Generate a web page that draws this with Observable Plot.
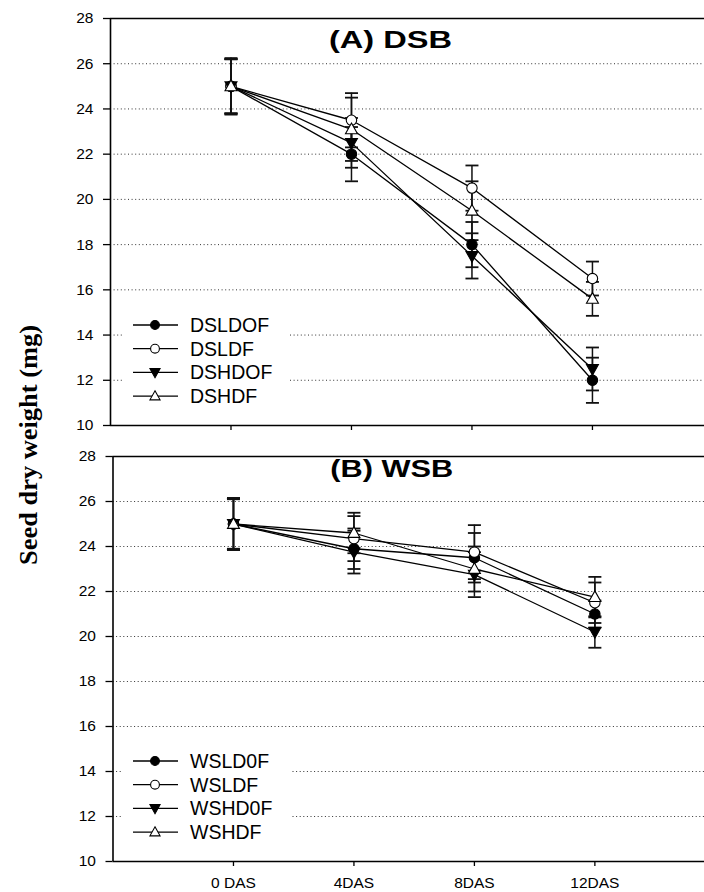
<!DOCTYPE html>
<html>
<head>
<meta charset="utf-8">
<script src="https://cdn.jsdelivr.net/npm/d3@7"></script>
<script src="https://cdn.jsdelivr.net/npm/@observablehq/plot@0.6"></script>
<style>
  html, body { margin: 0; padding: 0; background: #fff; }
  #chart { position: relative; width: 704px; height: 892px; overflow: hidden; background: #fff; }
  #chart > svg { position: absolute; left: 0; }
</style>
</head>
<body>
<div id="chart"></div>
<script>
// Sampling days (x categories)
const days = ["0 DAS", "4DAS", "8DAS", "12DAS"];
const yTicks = [10, 12, 14, 16, 18, 20, 22, 24, 26, 28];
const gridLines = [12, 14, 16, 18, 20, 22, 24, 26];

// (A) DSB — seed dry weight (mg) and error bars
const dsbNames = ["DSLDOF", "DSLDF", "DSHDOF", "DSHDF"];
const DSLDOF = [25.0, 22.0, 18.0, 12.0];
const DSLDOF_err = [1.2, 1.2, 1.0, 1.0];
const DSLDF = [25.0, 23.5, 20.5, 16.5];
const DSLDF_err = [1.2, 1.2, 1.0, 0.75];
const DSHDOF = [25.0, 22.5, 17.5, 12.5];
const DSHDOF_err = [1.2, 1.1, 1.0, 0.95];
const DSHDF = [25.0, 23.1, 19.5, 15.6];
const DSHDF_err = [1.25, 1.4, 1.3, 0.75];

// (B) WSB — seed dry weight (mg) and error bars
const wsbNames = ["WSLD0F", "WSLDF", "WSHD0F", "WSHDF"];
const WSLD0F = [25.0, 23.9, 23.5, 21.0];
const WSLD0F_err = [1.15, 0.9, 1.1, 0.6];
const WSLDF = [25.0, 24.35, 23.75, 21.5];
const WSLDF_err = [1.15, 1.0, 1.2, 0.9];
const WSHD0F = [25.0, 23.75, 22.75, 20.2];
const WSHD0F_err = [1.1, 0.95, 1.0, 0.7];
const WSHDF = [25.0, 24.6, 23.0, 21.75];
const WSHDF_err = [1.15, 0.9, 1.0, 0.9];

// Custom marker shapes (d3 symbol-type objects accepted by Plot.dot)
const triUp = {
  draw(ctx, size) {
    const r = Math.sqrt(size / Math.PI);
    ctx.moveTo(0, -1.2 * r);
    ctx.lineTo(1.15 * r, 0.85 * r);
    ctx.lineTo(-1.15 * r, 0.85 * r);
    ctx.closePath();
  }
};
const triDown = {
  draw(ctx, size) {
    const r = Math.sqrt(size / Math.PI);
    ctx.moveTo(0, 1.2 * r);
    ctx.lineTo(1.15 * r, -0.85 * r);
    ctx.lineTo(-1.15 * r, -0.85 * r);
    ctx.closePath();
  }
};
const capSymbol = {
  draw(ctx, size) {
    const r = Math.sqrt(size / Math.PI);
    ctx.moveTo(-r, 0);
    ctx.lineTo(r, 0);
  }
};

// Series styles, in drawing order: filled circle, open circle, filled down-triangle, open up-triangle
const styles = [
  {symbol: "circle", fill: "black"},
  {symbol: "circle", fill: "white"},
  {symbol: triDown, fill: "black"},
  {symbol: triUp, fill: "white"}
];

function toRows(names, values, errors) {
  return names.flatMap((name, s) =>
    values[s].map((v, i) => ({series: name, s, i, v, e: errors[s][i]})));
}

function panel({rows, names, title, titleDy, height, marginTop, marginBottom, marginLeft, xMax, labels}) {
  const marks = [
    Plot.ruleY(gridLines, {stroke: "#333", strokeWidth: 1, strokeDasharray: "1,2.6"}),
    Plot.axisY({ticks: yTicks, tickSize: 7, tickPadding: 10, label: null, fontSize: 15.5, strokeWidth: 1.3}),
    Plot.axisX({ticks: [0, 1, 2, 3], tickSize: 5, tickPadding: 10, label: null, fontSize: 15.5, strokeWidth: 1.3,
      tickFormat: labels ? (i) => days[i] : () => ""}),
    Plot.ruleX([-1], {strokeWidth: 1.6}),
    Plot.ruleY([10, 28], {strokeWidth: 1.6})
  ];
  names.forEach((n) => {
    marks.push(Plot.line(rows.filter((r) => r.series === n), {x: "i", y: "v", stroke: "black", strokeWidth: 1.3}));
  });
  names.forEach((n) => {
    const d = rows.filter((r) => r.series === n);
    marks.push(
      Plot.ruleX(d, {x: "i", y1: (r) => r.v - r.e, y2: (r) => r.v + r.e, stroke: "#111", strokeWidth: 1.5}),
      Plot.dot(d, {x: "i", y: (r) => r.v - r.e, symbol: capSymbol, r: 6.5, stroke: "#111", strokeWidth: 1.8, fill: "none"}),
      Plot.dot(d, {x: "i", y: (r) => r.v + r.e, symbol: capSymbol, r: 6.5, stroke: "#111", strokeWidth: 1.8, fill: "none"})
    );
  });
  names.forEach((n, s) => {
    marks.push(Plot.dot(rows.filter((r) => r.series === n), {
      x: "i", y: "v", r: 5.2, symbol: styles[s].symbol, fill: styles[s].fill, stroke: "black", strokeWidth: 1.1
    }));
  });
  marks.push(Plot.text([title], {
    frameAnchor: "top", dx: -17, dy: titleDy, lineAnchor: "middle",
    fontSize: 23, fontWeight: "bold", fill: "black", className: "panel-title"
  }));
  const svg = Plot.plot({
    width: 704, height, marginTop, marginBottom, marginLeft, marginRight: 0,
    x: {type: "linear", domain: [-1, xMax]},
    y: {domain: [10, 28]},
    style: {fontFamily: "'Liberation Sans', Arial, sans-serif", fontSize: "15px", color: "black", background: "transparent", overflow: "visible"},
    marks
  });
  // the panel heading is set wide, as in the printed figure
  d3.select(svg).selectAll(".panel-title text")
    .attr("textLength", 123).attr("lengthAdjust", "spacingAndGlyphs");
  return svg;
}

const chart = document.getElementById("chart");

const svgA = panel({
  rows: toRows(dsbNames, [DSLDOF, DSLDF, DSHDOF, DSHDF], [DSLDOF_err, DSLDF_err, DSHDOF_err, DSHDF_err]),
  names: dsbNames, title: "(A) DSB", titleDy: 22,
  height: 440, marginTop: 18, marginBottom: 15, marginLeft: 110, xMax: 3.93, labels: false
});
svgA.style.top = "0px";
chart.appendChild(svgA);

const svgB = panel({
  rows: toRows(wsbNames, [WSLD0F, WSLDF, WSHD0F, WSHDF], [WSLD0F_err, WSLDF_err, WSHD0F_err, WSHDF_err]),
  names: wsbNames, title: "(B) WSB", titleDy: 13,
  height: 454, marginTop: 18, marginBottom: 31, marginLeft: 112.5, xMax: 3.91, labels: true
});
svgB.style.top = "438px";
chart.appendChild(svgB);

// Legends and the shared y-axis title
const overlay = d3.create("svg")
  .attr("width", 704).attr("height", 892)
  .style("top", "0px").style("pointer-events", "none");

function legend(names, y0) {
  const g = overlay.append("g");
  g.append("rect").attr("x", 122).attr("y", y0 - 14).attr("width", 168).attr("height", 99).attr("fill", "white");
  names.forEach((n, k) => {
    const y = y0 + k * 23.7;
    g.append("line").attr("x1", 133).attr("x2", 178).attr("y1", y).attr("y2", y)
      .attr("stroke", "black").attr("stroke-width", 1.3);
    const sym = styles[k].symbol === "circle" ? d3.symbolCircle : styles[k].symbol;
    g.append("path").attr("transform", `translate(155,${y})`)
      .attr("d", d3.symbol(sym, Math.PI * 4.4 * 4.4)())
      .attr("fill", styles[k].fill).attr("stroke", "black").attr("stroke-width", 1.1);
    g.append("text").attr("x", 190).attr("y", y).attr("dy", "0.36em")
      .attr("font-family", "'Liberation Sans', Arial, sans-serif").attr("font-size", 19.5)
      .text(n);
  });
}
legend(dsbNames, 325);
legend(wsbNames, 761);

overlay.append("text")
  .attr("transform", "translate(37,445) rotate(-90)")
  .attr("text-anchor", "middle")
  .attr("font-family", "'Liberation Serif', 'Times New Roman', serif")
  .attr("font-weight", "bold").attr("font-size", 26)
  .attr("textLength", 240).attr("lengthAdjust", "spacingAndGlyphs")
  .text("Seed dry weight (mg)");

chart.appendChild(overlay.node());
</script>
</body>
</html>
